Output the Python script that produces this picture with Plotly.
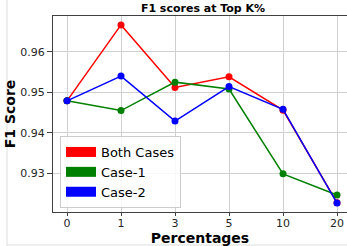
import plotly.graph_objects as go

categories = ["0", "1", "3", "5", "10", "20"]
both_cases = [0.9479, 0.9666, 0.9512, 0.9538, 0.9456, 0.9228]
case_1 = [0.9479, 0.9455, 0.9525, 0.9508, 0.9299, 0.9247]
case_2 = [0.9479, 0.9540, 0.9429, 0.9514, 0.9458, 0.9227]
y_ticks = [0.93, 0.94, 0.95, 0.96]

series = [("Both Cases", both_cases, "#ff0000"),
          ("Case-1", case_1, "#008000"),
          ("Case-2", case_2, "#0000ff")]

FONT = "DejaVu Sans"
fig = go.Figure()
for name, vals, col in series:
    fig.add_trace(go.Scatter(x=categories, y=vals, mode="lines+markers",
                             line=dict(color=col, width=1.5),
                             marker=dict(color=col, size=7),
                             showlegend=False, name=name))
for name, vals, col in series:
    fig.add_trace(go.Scatter(x=[None], y=[None], mode="lines", name=name,
                             line=dict(color=col, width=10), showlegend=True))

W, H = 347, 246
L, T, B, R = 53, 16, 34, 0
pw = W - L - R
ph = H - T - B

fig.update_layout(
    width=W, height=H,
    margin=dict(l=L, r=R, t=T, b=B, autoexpand=False),
    paper_bgcolor="white", plot_bgcolor="white",
    font=dict(family=FONT, size=11, color="#262626"),
    title=dict(text="<b>F1 scores at Top K%</b>", x=(L + pw / 2 + 3) / W, xanchor="center",
               y=1 - 8 / H, yanchor="middle", font=dict(size=11, color="black")),
    legend=dict(x=(60 - L) / pw, y=(212 - 208) / ph, xanchor="left", yanchor="bottom",
                bgcolor="rgba(255,255,255,0.85)", bordercolor="#cccccc", borderwidth=1,
                font=dict(size=13, color="black"), itemwidth=30, tracegroupgap=0),
    shapes=[
        dict(type="line", xref="paper", yref="paper", x0=(7 - L) / pw, x1=(7 - L) / pw,
             y0=(212 - 246) / ph, y1=(212) / ph, line=dict(color="#dddddd", width=1)),
        dict(type="line", xref="paper", yref="paper", x0=(7 - L) / pw, x1=(W - L) / pw,
             y0=(212 - 245) / ph, y1=(212 - 245) / ph, line=dict(color="#dddddd", width=1)),
    ],
)
fig.update_xaxes(type="category", range=[-14 / 54, (pw - 14) / 54], automargin=False,
                 showgrid=True, gridcolor="#d0d0d0", gridwidth=1,
                 showline=True, linecolor="#404040", linewidth=1, mirror=True,
                 ticks="outside", ticklen=3, tickcolor="#404040", ticklabelstandoff=-2,
                 tickfont=dict(size=11, color="#262626"),
                 title=dict(text="<b>Percentages</b>", font=dict(size=14, color="black"), standoff=1),
                 zeroline=False)
fig.update_yaxes(range=[0.9205, 0.9688], tickvals=y_ticks, tickformat=".2f", automargin=False,
                 showgrid=True, gridcolor="#d0d0d0", gridwidth=1,
                 showline=True, linecolor="#404040", linewidth=1,
                 ticks="outside", ticklen=5, tickcolor="#404040",
                 tickfont=dict(size=11, color="#262626"),
                 title=dict(text="<b>F1 Score</b>", font=dict(size=14, color="black"), standoff=1),
                 zeroline=False)

fig.write_html("out.html", config={"displayModeBar": False},
               post_script="document.body.style.margin='0';")
